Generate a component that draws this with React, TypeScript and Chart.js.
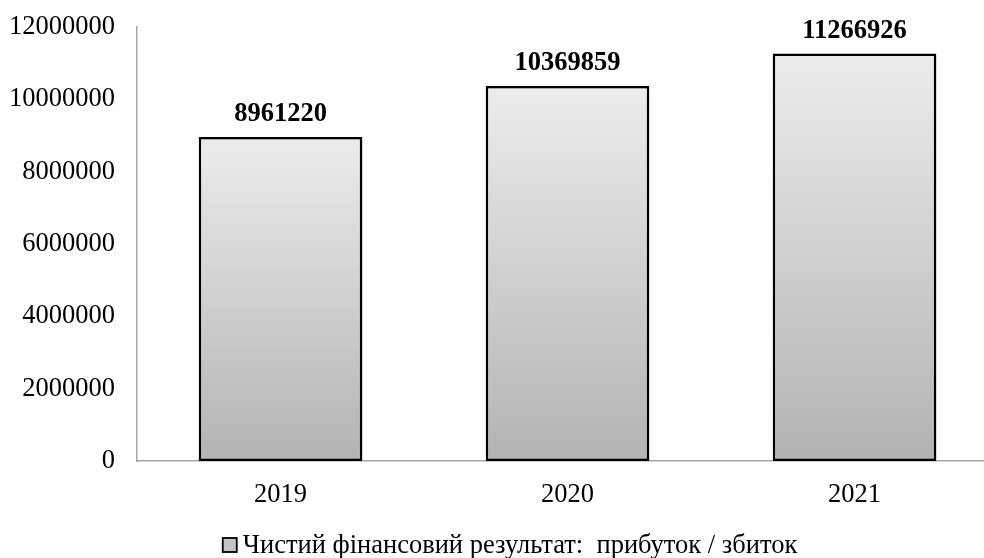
import React, { useEffect, useRef } from "react";
import { Chart, registerables } from "chart.js";

Chart.register(...registerables);

const years = ["2019", "2020", "2021"];
const netResult = [8961220, 10369859, 11266926];
const seriesName = "Чистий фінансовий результат:  прибуток / збиток";
const yMax = 12000000;
const yStep = 2000000;

const FONT = "'Liberation Serif', 'Times New Roman', serif";

const valueLabels = {
  id: "valueLabels",
  afterDatasetsDraw(chart: any) {
    const { ctx } = chart;
    const meta = chart.getDatasetMeta(0);
    ctx.save();
    ctx.font = `bold 26.5px ${FONT}`;
    ctx.fillStyle = "#000";
    ctx.textAlign = "center";
    ctx.textBaseline = "alphabetic";
    meta.data.forEach((bar: any, i: number) => {
      ctx.fillText(String(netResult[i]), bar.x, bar.y - 16);
    });
    ctx.restore();
  },
};

// Legend row under the plot: small square swatch followed by the series name.
const bottomLegend = {
  id: "bottomLegend",
  afterDraw(chart: any) {
    const { ctx } = chart;
    const fontSize = 26.5;
    ctx.save();
    ctx.font = `${fontSize}px ${FONT}`;
    const textW = ctx.measureText(seriesName).width;
    const box = 14;
    const gap = 6;
    const totalW = box + gap + textW;
    const centreX = 510;
    const y = 545;
    const x0 = centreX - totalW / 2;
    ctx.fillStyle = "#c4c4c4";
    ctx.fillRect(x0, y - box / 2, box, box);
    ctx.strokeStyle = "#000";
    ctx.lineWidth = 1.8;
    ctx.strokeRect(x0, y - box / 2, box, box);
    ctx.fillStyle = "#000";
    ctx.textAlign = "left";
    ctx.textBaseline = "middle";
    ctx.fillText(seriesName, x0 + box + gap, y + 1);
    ctx.restore();
  },
};

const barShadow = {
  id: "barShadow",
  beforeDatasetDraw(chart: any) {
    const { ctx } = chart;
    ctx.save();
    ctx.shadowColor = "rgba(0,0,0,0.28)";
    ctx.shadowBlur = 4;
    ctx.shadowOffsetX = 2;
    ctx.shadowOffsetY = 1;
  },
  afterDatasetDraw(chart: any) {
    chart.ctx.restore();
  },
};

function barGradient(context: any) {
  const chart = context.chart;
  const { ctx, scales } = chart;
  if (!scales || !scales.y || context.type !== "data") return "#d0d0d0";
  const v = context.parsed ? context.parsed.y : netResult[context.dataIndex];
  const top = scales.y.getPixelForValue(v);
  const bottom = scales.y.getPixelForValue(0);
  if (!Number.isFinite(top) || !Number.isFinite(bottom) || top === bottom) return "#d0d0d0";
  const g = ctx.createLinearGradient(0, top, 0, bottom);
  g.addColorStop(0, "#ececec");
  g.addColorStop(1, "#b3b3b3");
  return g;
}

export default function App() {
  const ref = useRef<HTMLCanvasElement>(null);

  useEffect(() => {
    if (!ref.current) return;
    const chart = new Chart(ref.current, {
      type: "bar",
      data: {
        labels: years,
        datasets: [
          {
            label: seriesName,
            data: netResult,
            backgroundColor: barGradient,
            borderColor: "#000",
            borderWidth: 2.5,
            borderSkipped: false,
            barPercentage: 0.57,
            categoryPercentage: 1,
          },
        ],
      },
      options: {
        animation: false,
        responsive: false,
        maintainAspectRatio: false,
        layout: { padding: { top: 27, left: 0, right: 0, bottom: 45 } },
        scales: {
          x: {
            grid: { display: false },
            border: { display: true, color: "#a6a6a6", width: 1.5 },
            ticks: {
              color: "#000",
              font: { family: FONT, size: 26.5 },
              padding: 10,
            },
            afterFit(scale: any) {
              scale.height = 52;
              scale.paddingLeft = 0;
              scale.paddingRight = 0;
            },
          },
          y: {
            min: 0,
            max: yMax,
            grid: { display: false },
            border: { display: true, color: "#a6a6a6", width: 1.5 },
            ticks: {
              stepSize: yStep,
              color: "#000",
              padding: 14,
              font: { family: FONT, size: 26.5 },
              callback: (v: any) => String(v),
            },
            afterFit(scale: any) {
              scale.width = 137;
              scale.paddingTop = 0;
              scale.paddingBottom = 0;
            },
          },
        },
        plugins: {
          tooltip: { enabled: false },
          legend: { display: false },
        },
      },
      plugins: [barShadow, valueLabels, bottomLegend],
    });
    return () => chart.destroy();
  }, []);

  return (
    <div
      style={{
        position: "absolute",
        left: 0,
        top: 0,
        width: 984,
        height: 558,
        overflow: "hidden",
        background: "#fff",
      }}
    >
      <canvas ref={ref} width={998} height={558} style={{ display: "block" }} />
    </div>
  );
}
